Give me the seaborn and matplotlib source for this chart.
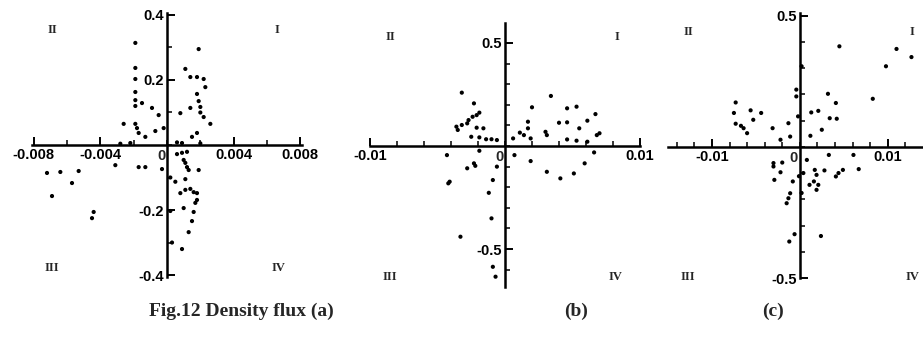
"""Fig.12 Density flux: three quadrant scatter plots with axes through the origin."""

import matplotlib
matplotlib.use("Agg")
import matplotlib.pyplot as plt
import seaborn as sns
import numpy as np

W, H = 923, 337

# ---- data ----
a_x = [-0.0019, -0.0019, -0.0019, -0.0019, -0.0019, -0.0019, -0.0015, -0.0009, -0.0005,
       -0.0026, -0.0019, -0.0018, -0.0017, -0.0013, -0.0007, -0.0002,
       0.0019, 0.0011, 0.0014, 0.0018, 0.0022, 0.0023, 0.0018, 0.0019, 0.0014, 0.0020,
       0.0020, 0.0022, 0.0026, 0.0008, 0.0015, 0.0018,
       -0.0072, -0.0064, -0.0053, -0.0057, -0.0069, -0.0045, -0.0044, -0.0031, -0.0017,
       -0.0013, -0.0003,
       0.0006, 0.0009, 0.0012, 0.0010, 0.0011, 0.0012, 0.0013, 0.0019, 0.0002, 0.0005,
       0.0011, 0.0008, 0.0011, 0.0014, 0.0016, 0.0018, 0.0018, 0.0017, 0.0016, 0.0015,
       0.0010, 0.0013, 0.0009, 0.0003, 0.0002,
       0.0006, 0.0009, -0.0022, -0.0028, 0.0020]
a_y = [0.314, 0.237, 0.203, 0.163, 0.138, 0.120, 0.129, 0.114, 0.092,
       0.065, 0.065, 0.052, 0.037, 0.025, 0.043, 0.052,
       0.295, 0.234, 0.209, 0.209, 0.203, 0.178, 0.157, 0.135, 0.114, 0.117,
       0.100, 0.086, 0.065, 0.098, 0.025, 0.037,
       -0.086, -0.083, -0.080, -0.117, -0.157, -0.225, -0.206, -0.062, -0.068,
       -0.068, -0.074,
       -0.028, -0.024, -0.021, -0.046, -0.055, -0.068, -0.077, -0.077, -0.100, -0.113,
       -0.105, -0.148, -0.138, -0.135, -0.145, -0.148, -0.169, -0.178, -0.206, -0.234,
       -0.194, -0.268, -0.320, -0.300, -0.203,
       0.008, 0.006, 0.006, 0.004, 0.005]

b_x = [-0.0032, -0.0023, -0.0019, -0.0021, -0.0024, -0.0027, -0.0028, -0.0036, -0.0035,
       -0.0032, -0.0021, -0.0016, -0.0025, -0.0019, -0.0014, -0.0010, -0.0006, -0.0043,
       -0.0028, -0.0023, -0.0022, -0.0019, -0.0041, -0.0042, -0.0009, -0.0012, -0.0010,
       -0.0033, -0.0009, -0.0007, -0.0006,
       0.0034, 0.0020, 0.0046, 0.0053, 0.0067, 0.0061, 0.0017, 0.0040, 0.0046, 0.0017,
       0.0030, 0.0031, 0.0055, 0.0011, 0.0014, 0.0006, 0.0019, 0.0046, 0.0068, 0.0070,
       0.0053, 0.0061, 0.0066, 0.0007, 0.0019, 0.0031, 0.0041, 0.0051, 0.0059]
b_y = [0.259, 0.207, 0.162, 0.150, 0.142, 0.126, 0.110, 0.094, 0.078,
       0.102, 0.089, 0.086, 0.045, 0.042, 0.033, 0.033, 0.029, -0.044,
       -0.108, -0.084, -0.096, -0.023, -0.173, -0.181, -0.165, -0.227, -0.351,
       -0.440, -0.586, -0.634, -0.100,
       0.243, 0.188, 0.183, 0.191, 0.155, 0.123, 0.118, 0.113, 0.115, 0.086,
       0.069, 0.053, 0.086, 0.065, 0.053, 0.037, 0.037, 0.032, 0.053, 0.062,
       0.026, 0.021, -0.031, -0.044, -0.073, -0.125, -0.157, -0.133, -0.084]

c_x = [0.0045, 0.0110, 0.0127, 0.0098, 0.0083, 0.0032, 0.0041, 0.0013, 0.0021, 0.0034,
       0.0042, 0.0025, 0.0012,
       0.0002, -0.0004, -0.0004, -0.0002,
       -0.0073, -0.0075, -0.0073, -0.0067, -0.0064, -0.0060, -0.0056, -0.0053, -0.0044,
       -0.0031, -0.0022, -0.0011, -0.0013,
       -0.0030, -0.0030, -0.0020, -0.0022, -0.0029, -0.0008, -0.0011, -0.0013, -0.0015,
       -0.0001, 0.0002, -0.0012, -0.0006, 0.0024, 0.0008, 0.0017, 0.0019, 0.0016, 0.0021,
       0.0019, 0.0011, 0.0028, 0.0041, 0.0044, 0.0049, 0.0067, 0.0061, 0.0033, 0.0004]
c_y = [0.383, 0.373, 0.342, 0.307, 0.183, 0.202, 0.167, 0.131, 0.137, 0.109,
       0.107, 0.065, 0.042,
       0.307, 0.218, 0.192, 0.116,
       0.169, 0.129, 0.088, 0.080, 0.071, 0.052, 0.139, 0.103, 0.129,
       0.071, 0.027, 0.039, 0.090,
       -0.062, -0.075, -0.060, -0.097, -0.126, -0.132, -0.177, -0.196, -0.215,
       -0.112, -0.176, -0.361, -0.333, -0.340, -0.050, -0.088, -0.107, -0.132, -0.145,
       -0.164, -0.145, -0.090, -0.113, -0.100, -0.088, -0.085, -0.031, -0.031, -0.100]

a_xticks = [-0.008, -0.004, 0.004, 0.008]
a_xlabels = ["-0.008", "-0.004", "0.004", "0.008"]
a_yticks = [-0.4, -0.2, 0.2, 0.4]
a_ylabels = ["-0.4", "-0.2", "0.2", "0.4"]
b_xticks = [-0.01, 0.01]
b_xlabels = ["-0.01", "0.01"]
b_yticks = [-0.5, 0.5]
b_ylabels = ["-0.5", "0.5"]
c_xticks = [-0.01, 0.01]
c_xlabels = ["-0.01", "0.01"]
c_yticks = [-0.5, 0.5]
c_ylabels = ["-0.5", "0.5"]

quadrants = ["I", "II", "III", "IV"]
captions = ["Fig.12 Density flux (a)", "(b)", "(c)"]

sns.set_style("white")
plt.rcParams["axes.unicode_minus"] = False

fig = plt.figure(figsize=(W / 100, H / 100), dpi=100)


def px_axes(x0, y0, x1, y1):
    # rectangle given in pixel coords (top-left origin)
    return fig.add_axes([x0 / W, 1 - y1 / H, (x1 - x0) / W, (y1 - y0) / H])


panels = [
    dict(rect=(32, 13, 302, 277), xlim=(-0.0081, 0.0081), ylim=(-0.406, 0.406),
         x=a_x, y=a_y, xt=a_xticks, xl=a_xlabels, yt=a_yticks, yl=a_ylabels,
         xminor=0.002, yminor=0.1,
         quad=[(277, 30), (52, 30), (52, 268), (278, 268)]),
    dict(rect=(370, 23, 640, 287), xlim=(-0.01, 0.01), ylim=(-0.684, 0.597),
         x=b_x, y=b_y, xt=b_xticks, xl=b_xlabels, yt=b_yticks, yl=b_ylabels,
         xminor=0.002, yminor=0.1,
         quad=[(617, 37), (390, 37), (390, 277), (615, 277)]),
    dict(rect=(668, 13, 922, 278), xlim=(-0.015, 0.0139), ylim=(-0.5, 0.51),
         x=c_x, y=c_y, xt=c_xticks, xl=c_xlabels, yt=c_yticks, yl=c_ylabels,
         xminor=0.002, yminor=0.1,
         quad=[(912, 32), (688, 32), (688, 277), (912, 277)]),
]

tick_font = dict(family="Liberation Sans", weight="bold", size=10.5)

for p in panels:
    ax = px_axes(*p["rect"])
    ax.set_facecolor("none")
    sns.scatterplot(x=p["x"], y=p["y"], ax=ax, color="black", s=9,
                    edgecolor="none", linewidth=0)
    ax.set_xlim(*p["xlim"])
    ax.set_ylim(*p["ylim"])
    for side in ("top", "right"):
        ax.spines[side].set_visible(False)
    for side in ("left", "bottom"):
        ax.spines[side].set_position(("data", 0))
        ax.spines[side].set_linewidth(1.8)
        ax.spines[side].set_color("black")
    ax.set_xticks(p["xt"])
    ax.set_xticklabels(p["xl"], fontdict=tick_font)
    ax.set_yticks(p["yt"])
    ax.set_yticklabels(p["yl"], fontdict=tick_font)
    xs = np.arange(-0.016, 0.0161, p["xminor"])
    ys = np.arange(-0.7, 0.701, p["yminor"])
    ax.set_xticks([v for v in xs if p["xlim"][0] <= v <= p["xlim"][1]], minor=True)
    ax.set_yticks([v for v in ys if p["ylim"][0] <= v <= p["ylim"][1]], minor=True)
    ax.tick_params(which="both", bottom=True, left=True, top=False, right=False)
    ax.tick_params(which="major", direction="in", length=6, width=1.4, pad=2, colors="black")
    ax.tick_params(which="minor", direction="in", length=3.5, width=1.1, colors="black")
    ax.annotate("0", (0, 0), xytext=(-6, -11), textcoords="offset pixels",
                ha="center", va="center", **tick_font)
    ax.grid(False)
    for q, (qx, qy) in zip(quadrants, p["quad"]):
        fig.text(qx / W, 1 - qy / H, q, ha="center", va="center",
                 family="Liberation Serif", weight="bold", size=9)

for label, cx in zip(captions, (241, 576, 773)):
    fig.text(cx / W, 1 - 311 / H, label, ha="center", va="center",
             family="Liberation Serif", weight="bold", size=14)

fig.savefig("out.png", dpi=100)
plt.close(fig)
